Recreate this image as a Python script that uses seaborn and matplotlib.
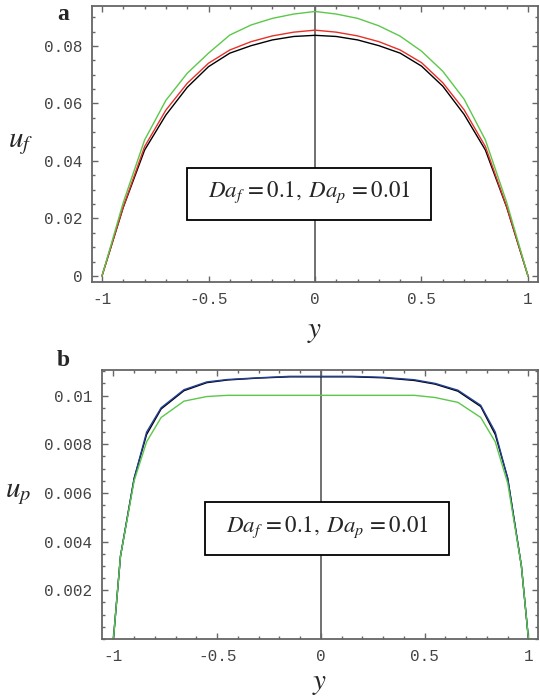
import matplotlib
matplotlib.use("Agg")
import matplotlib.pyplot as plt
import seaborn as sns
from matplotlib.patches import Rectangle
from matplotlib.ticker import MultipleLocator, FixedLocator, FuncFormatter

# panel a: fluid velocity u_f
ya = [-1.0, -0.9, -0.8, -0.7, -0.6, -0.5, -0.4, -0.3, -0.2, -0.1, 0.0,
      0.1, 0.2, 0.3, 0.4, 0.5, 0.6, 0.7, 0.8, 0.9, 1.0]
uf_black = [0, 0.0239, 0.0438, 0.0560, 0.0656, 0.0728, 0.0775, 0.0801, 0.0821, 0.0833, 0.0837,
            0.0833, 0.0821, 0.0801, 0.0775, 0.0730, 0.0660, 0.0562, 0.0438, 0.0239, 0]
uf_red = [0, 0.0241, 0.0450, 0.0577, 0.0670, 0.0740, 0.0786, 0.0815, 0.0835, 0.0848, 0.0855,
          0.0848, 0.0835, 0.0815, 0.0786, 0.0742, 0.0672, 0.0578, 0.0450, 0.0241, 0]
uf_green = [0, 0.0256, 0.0473, 0.0611, 0.0705, 0.0775, 0.0838, 0.0873, 0.0896, 0.0911, 0.0920,
            0.0911, 0.0896, 0.0870, 0.0834, 0.0782, 0.0712, 0.0615, 0.0473, 0.0256, 0]

# panel b: particle velocity u_p
yb = [-1.0, -0.966, -0.9, -0.84, -0.77, -0.66, -0.55, -0.45, -0.3, -0.15, 0.0,
      0.15, 0.3, 0.45, 0.55, 0.66, 0.77, 0.84, 0.9, 0.966, 1.0]
up_black = [0, 0.0034, 0.0066, 0.0084, 0.00945, 0.01020, 0.01053, 0.01064, 0.01072, 0.01077, 0.01077,
            0.01077, 0.01073, 0.01062, 0.01047, 0.01018, 0.00955, 0.0084, 0.0066, 0.0030, 0]
up_blue = [0, 0.0034, 0.0066, 0.0085, 0.0095, 0.01024, 0.01056, 0.01066, 0.01073, 0.01079, 0.01079,
           0.01079, 0.01075, 0.01065, 0.01050, 0.01022, 0.0096, 0.0085, 0.0066, 0.0030, 0]
up_green = [0, 0.0034, 0.0065, 0.0081, 0.0091, 0.00977, 0.00996, 0.01001, 0.01001, 0.01001, 0.01001,
            0.01001, 0.01001, 0.01001, 0.00992, 0.00972, 0.0091, 0.0081, 0.0064, 0.0030, 0]

xticks = [-1, -0.5, 0, 0.5, 1]
label_text = r'$Da_f\,=0.1,\;Da_p\,=0.01$'

sns.set_style("ticks")
plt.rcParams['mathtext.fontset'] = 'stix'
plt.rcParams['axes.unicode_minus'] = False

fig = plt.figure(figsize=(5.4, 6.96), dpi=100)
ax_a = fig.add_axes([92/540, 1-282/696, 446/540, 276/696])
ax_b = fig.add_axes([102/540, 1-639/696, 436/540, 269/696])

gray = '#666666'
fmt = FuncFormatter(lambda v, p: f'{v:g}')

def style(ax):
    for s in ax.spines.values():
        s.set_color(gray)
        s.set_linewidth(1.3)
    ax.axvline(0, color=gray, lw=1.3, zorder=1)
    ax.xaxis.set_major_locator(FixedLocator(xticks))
    ax.xaxis.set_minor_locator(MultipleLocator(0.1))
    ax.xaxis.set_major_formatter(fmt)
    ax.yaxis.set_major_formatter(fmt)
    ax.tick_params(which='both', direction='in', top=True, right=True,
                   color=gray, width=1)
    ax.tick_params(which='major', length=4.5, pad=7, labelsize=11.5,
                   labelcolor='#444444')
    ax.tick_params(which='minor', length=2.5)
    for lab in ax.get_xticklabels() + ax.get_yticklabels():
        lab.set_fontfamily('Liberation Mono')

def note(ax, x0, y0, x1, y1):
    ax.add_patch(Rectangle((x0, y0), x1 - x0, y1 - y0, transform=ax.transAxes,
                           fc='white', ec='black', lw=1.3, zorder=5))
    ax.text((x0 + x1) / 2, (y0 + y1) / 2 + 0.005, label_text, transform=ax.transAxes,
            fontsize=16.5, ha='center', va='center', zorder=6)

# panel a
sns.lineplot(x=ya, y=uf_black, color='black', lw=1, ax=ax_a)
sns.lineplot(x=ya, y=uf_red, color='#e8302a', lw=1, ax=ax_a)
sns.lineplot(x=ya, y=uf_green, color='#5cc84a', lw=1, ax=ax_a)
ax_a.set_xlim(-1.047, 1.047)
ax_a.set_ylim(-0.0021, 0.0939)
ax_a.yaxis.set_major_locator(FixedLocator([0, 0.02, 0.04, 0.06, 0.08]))
ax_a.yaxis.set_minor_locator(MultipleLocator(0.005))
style(ax_a)
note(ax_a, 0.213, 0.225, 0.760, 0.413)

# panel b
sns.lineplot(x=yb, y=up_black, color='black', lw=1, ax=ax_b)
sns.lineplot(x=yb, y=up_blue, color='#233f95', lw=1, ax=ax_b)
sns.lineplot(x=yb, y=up_green, color='#5cc84a', lw=1, ax=ax_b)
ax_b.set_xlim(-1.055, 1.046)
ax_b.set_ylim(0, 0.01105)
ax_b.yaxis.set_major_locator(FixedLocator([0.002, 0.004, 0.006, 0.008, 0.01]))
ax_b.yaxis.set_minor_locator(MultipleLocator(0.0005))
style(ax_b)
note(ax_b, 0.236, 0.312, 0.796, 0.509)

for ax, lab, lx, ly, xly in [(ax_a, r'$u_f$', -0.159, 0.504, -0.127),
                             (ax_b, r'$u_p$', -0.193, 0.543, -0.112)]:
    ax.set_ylabel(lab, fontsize=21, rotation=0, va='center', ha='center')
    ax.yaxis.set_label_coords(lx, ly)
    ax.set_xlabel(r'$y$', fontsize=21)
    ax.xaxis.set_label_coords(0.5, xly)

fig.text(63/540, 1-15/696, 'a', fontsize=17, fontweight='bold', fontfamily='Liberation Serif',
         ha='center', va='center')
fig.text(63/540, 1-360/696, 'b', fontsize=17, fontweight='bold', fontfamily='Liberation Serif',
         ha='center', va='center')

fig.savefig('out.png', dpi=100)
